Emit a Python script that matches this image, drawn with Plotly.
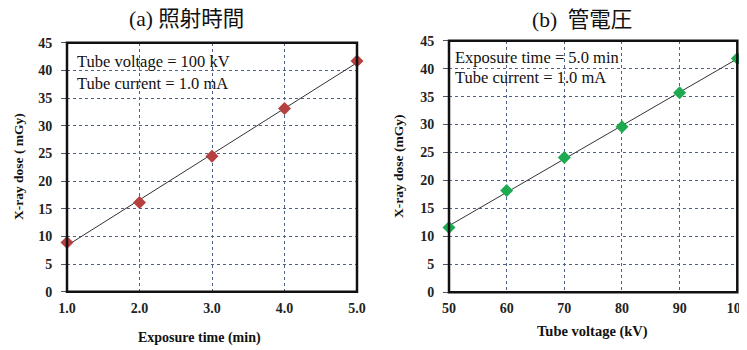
import numpy as np
import plotly.graph_objects as go

# Panel (a): exposure time
time_min = [1.0, 2.0, 3.0, 4.0, 5.0]
dose_a = [8.9, 16.1, 24.5, 33.1, 41.7]
# Panel (b): tube voltage
voltage_kv = [50, 60, 70, 80, 90, 100]
dose_b = [11.6, 18.2, 24.1, 29.6, 35.7, 41.8]

x_ticks_a = [1.0, 2.0, 3.0, 4.0, 5.0]
x_ticklabels_a = ["1.0", "2.0", "3.0", "4.0", "5.0"]
x_ticks_b = [50, 60, 70, 80, 90, 100]
y_ticks = [0, 5, 10, 15, 20, 25, 30, 35, 40, 45]

SERIF = "Liberation Serif, Times New Roman, serif"
TITLE_FONT = "Liberation Serif, Noto Sans CJK JP, serif"

W, H = 747, 350
OFF = 8  # page body margin


def PX(x):
    return (x - OFF) / W


def PY(y):
    return 1 - (y - OFF) / H


fig = go.Figure()


def fit(xs, ys):
    p = np.polyfit(xs, ys, 1)
    xx = np.array([min(xs), max(xs)])
    return xx, np.polyval(p, xx)


lx, ly = fit(time_min, dose_a)
fig.add_trace(go.Scatter(x=lx, y=ly, mode="lines", line=dict(color="#333333", width=1),
                         xaxis="x", yaxis="y", showlegend=False, hoverinfo="skip"))
fig.add_trace(go.Scatter(x=time_min, y=dose_a, mode="markers",
                         marker=dict(symbol="diamond", size=10, color="#B5403F"),
                         xaxis="x", yaxis="y", showlegend=False, cliponaxis=False))

lx2, ly2 = fit(voltage_kv, dose_b)
fig.add_trace(go.Scatter(x=lx2, y=ly2, mode="lines", line=dict(color="#333333", width=1),
                         xaxis="x2", yaxis="y2", showlegend=False, hoverinfo="skip"))
fig.add_trace(go.Scatter(x=voltage_kv, y=dose_b, mode="markers",
                         marker=dict(symbol="diamond", size=10, color="#1DAA50"),
                         xaxis="x2", yaxis="y2", showlegend=False, cliponaxis=False))

grid = dict(showgrid=True, gridcolor="#4f6285", griddash="dot", gridwidth=1, zeroline=False)
tickfont = dict(family=SERIF, size=14, color="#222222", weight="bold")

fig.update_layout(
    width=W, height=H,
    margin=dict(l=0, r=0, t=0, b=0, autoexpand=False),
    paper_bgcolor="white", plot_bgcolor="white",
    xaxis=dict(domain=[PX(67), PX(357)], range=[1, 5], tickvals=x_ticks_a, ticktext=x_ticklabels_a,
               tickfont=tickfont, anchor="y", showline=False, ticks="", ticklabelstandoff=6,
               automargin=False, **grid),
    yaxis=dict(domain=[PY(291.7), PY(42.7)], range=[0, 45], tickvals=y_ticks,
               tickfont=tickfont, anchor="x", ticks="outside", ticklen=5, tickcolor="#555555",
               ticklabelstandoff=6, automargin=False, showline=False, **grid),
    xaxis2=dict(domain=[PX(449), PX(737.3)], range=[50, 100], tickvals=x_ticks_b,
                tickfont=tickfont, anchor="y2", showline=False, ticks="", ticklabelstandoff=6,
                automargin=False, **grid),
    yaxis2=dict(domain=[PY(292.3), PY(40.7)], range=[0, 45], tickvals=y_ticks,
                tickfont=tickfont, anchor="x2", ticks="outside", ticklen=5, tickcolor="#555555",
                ticklabelstandoff=6, automargin=False, showline=False, **grid),
)

# plot borders
for xr, yr in [("x domain", "y domain"), ("x2 domain", "y2 domain")]:
    fig.add_shape(type="rect", xref=xr, yref=yr, x0=0, x1=1, y0=0, y1=1,
                  line=dict(color="#111111", width=2.5), layer="above")


def ann(text, x, y, size, bold=False, family=SERIF, angle=0, xanchor="center"):
    t = f"<b>{text}</b>" if bold else text
    fig.add_annotation(text=t, x=PX(x), y=PY(y), xref="paper", yref="paper",
                       showarrow=False, xanchor=xanchor, yanchor="middle",
                       textangle=angle, font=dict(family=family, size=size, color="#111111"))


ann("(a) 照射時間", 186, 19, 21.5, family=TITLE_FONT)
ann("(b)  管電圧", 582, 20, 21.5, family=TITLE_FONT)
ann("Tube voltage = 100 kV", 75, 62, 16.5, xanchor="left")
ann("Tube current = 1.0 mA", 75, 84, 16.5, xanchor="left")
ann("Exposure time = 5.0 min", 453, 58, 16.5, xanchor="left")
ann("Tube current = 1.0 mA", 453, 78, 16.5, xanchor="left")
ann("Exposure time (min)", 200, 338, 14, bold=True)
ann("Tube voltage (kV)", 592, 331, 14.5, bold=True)
ann("X-ray dose ( mGy)", 18, 167, 13.5, bold=True, angle=-90)
ann("X-ray dose (mGy)", 398, 167, 13.5, bold=True, angle=-90)

fig.write_html("out.html")
